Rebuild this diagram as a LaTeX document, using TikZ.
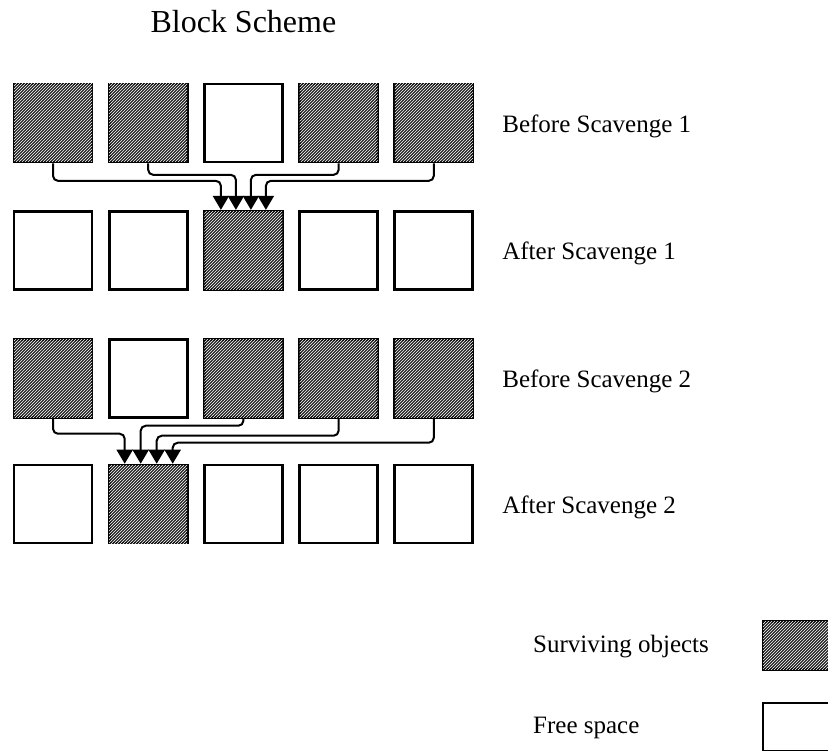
\documentclass[tikz,border=0pt]{standalone}
\usepackage{fontspec}
\setmainfont{Liberation Serif}
\usepackage{tikz}
\usetikzlibrary{arrows.meta,positioning,patterns}

\begin{document}
\begin{tikzpicture}[x=1pt, y=1pt, node distance=14.5pt,
    freebox/.style={rectangle, draw, line width=2.7pt, minimum size=78pt, inner sep=0pt},
    livebox/.style={freebox, fill=black!85, postaction={pattern=north east lines, pattern color=white}},
    keybox/.style={freebox, minimum width=70pt, minimum height=48pt},
    link/.style={line width=2pt, rounded corners=5pt, -{Triangle[width=16pt,length=14pt]}},
    rowtext/.style={font=\fontsize{25}{29}\selectfont, inner sep=0pt, anchor=west, yshift=-3pt},
    titletext/.style={font=\fontsize{32}{36}\selectfont, inner sep=0pt}]

    \useasboundingbox (0,0) rectangle (828,-751);

    % before scavenge 1
    \node[livebox] (b11) at (53,-123) {};
    \node[livebox, right=of b11] (b12) {};
    \node[freebox, right=of b12] (b13) {};
    \node[livebox, right=of b13] (b14) {};
    \node[livebox, right=of b14] (b15) {};

    % after scavenge 1
    \node[freebox, below=46.5pt of b11] (a11) {};
    \node[freebox, right=of a11] (a12) {};
    \node[livebox, right=of a12] (a13) {};
    \node[freebox, right=of a13] (a14) {};
    \node[freebox, right=of a14] (a15) {};

    % before scavenge 2
    \node[livebox, below=47.5pt of a11] (b21) {};
    \node[freebox, right=of b21] (b22) {};
    \node[livebox, right=of b22] (b23) {};
    \node[livebox, right=of b23] (b24) {};
    \node[livebox, right=of b24] (b25) {};

    % after scavenge 2
    \node[freebox, below=45pt of b21] (a21) {};
    \node[livebox, right=of a21] (a22) {};
    \node[freebox, right=of a22] (a23) {};
    \node[freebox, right=of a23] (a24) {};
    \node[freebox, right=of a24] (a25) {};

    \node[titletext, above=50pt of b13.north] (title) {Block Scheme};

    \node[rowtext, right=28pt of b15] (t1) {Before Scavenge 1};
    \node[rowtext, right=28pt of a15] (t2) {After Scavenge 1};
    \node[rowtext, right=28pt of b25] (t3) {Before Scavenge 2};
    \node[rowtext, right=28pt of a25] (t4) {After Scavenge 2};

    % legend
    \node[rowtext] (surv_txt) at (533,-644) {Surviving objects};
    \node[rowtext] (free_txt) at (533,-725) {Free space};
    \node[keybox, fill=black!85, postaction={pattern=north east lines, pattern color=white}] (surv_box) at (798,-645.5) {};
    \node[keybox] (free_box) at (798,-727) {};

    \draw[link] (b11.south) -- ++(0,-17.5) -| ([xshift=-22.5pt]a13.north);
    \draw[link] (b12.south) -- ++(0,-11.5) -| ([xshift=-7.5pt]a13.north);
    \draw[link] (b14.south) -- ++(0,-11.5) -| ([xshift=7.5pt]a13.north);
    \draw[link] (b15.south) -- ++(0,-17.5) -| ([xshift=22.5pt]a13.north);

    \draw[link] (b21.south) -- ++(0,-15) -| ([xshift=-23.5pt]a22.north);
    \draw[link] (b23.south) -- ++(0,-7) -| ([xshift=-7.5pt]a22.north);
    \draw[link] (b24.south) -- ++(0,-17) -| ([xshift=8.5pt]a22.north);
    \draw[link] (b25.south) -- ++(0,-24) -| ([xshift=24.5pt]a22.north);
\end{tikzpicture}
\end{document}
